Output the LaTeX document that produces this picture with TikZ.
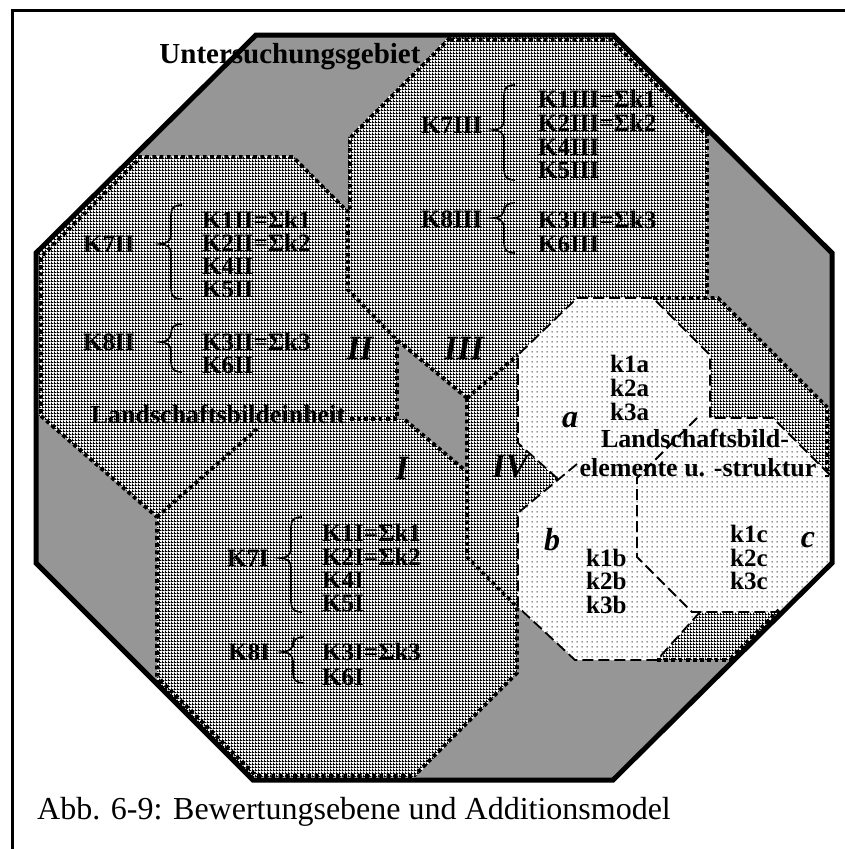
\documentclass[tikz,border=0pt]{standalone}
\usepackage{fontspec}
\setmainfont{Liberation Serif}
\usetikzlibrary{patterns}
\definecolor{grayfill}{RGB}{150,150,150}
\pgfdeclarepatternformonly{mesh}{\pgfqpoint{0pt}{0pt}}{\pgfqpoint{3pt}{3pt}}{\pgfqpoint{3pt}{3pt}}{%
  \pgfpathrectangle{\pgfqpoint{0pt}{0pt}}{\pgfqpoint{3pt}{1.2pt}}%
  \pgfpathrectangle{\pgfqpoint{0pt}{1.2pt}}{\pgfqpoint{1.2pt}{1.8pt}}%
  \pgfusepath{fill}}
\pgfdeclarepatternformonly{finedots}{\pgfqpoint{0pt}{0pt}}{\pgfqpoint{5pt}{5pt}}{\pgfqpoint{5pt}{5pt}}{%
  \pgfpathrectangle{\pgfqpoint{1.8pt}{1.8pt}}{\pgfqpoint{1.4pt}{1.4pt}}%
  \pgfusepath{fill}}
\newcommand\kbrace[4]{\draw[bracel] (#1+22,#2) .. controls (#1+14,#2) and (#1+11,#2+3) .. (#1+11,#2+10) -- (#1+11,#3-9) .. controls (#1+11,#3-3) and (#1+6,#3) .. (#1,#3) .. controls (#1+6,#3) and (#1+11,#3+3) .. (#1+11,#3+9) -- (#1+11,#4-10) .. controls (#1+11,#4-3) and (#1+14,#4) .. (#1+22,#4);}
\begin{document}
\begin{tikzpicture}[x=1pt,y=-1pt,
  dotl/.style={line width=3.8pt, dash pattern=on 3.8pt off 3.4pt},
  dashl/.style={line width=1.8pt, dash pattern=on 11pt off 5pt},
  bracel/.style={line width=1.6pt},
  checker/.style={pattern=mesh, preaction={fill=white}},
  dotted area/.style={pattern=finedots, preaction={fill=white}},
  lab/.style={font=\fontsize{25}{25}\selectfont\bfseries, inner sep=0pt, anchor=west},
  ctr/.style={font=\fontsize{26}{26}\selectfont\bfseries, inner sep=0pt},
  num/.style={font=\fontsize{34}{34}\selectfont\bfseries\itshape, inner sep=0pt},
  let/.style={font=\fontsize{32}{32}\selectfont\bfseries\itshape, inner sep=0pt}]
\useasboundingbox (0,0) rectangle (845,849);
% frame
\draw[line width=3pt] (12,849) -- (12,10) -- (845,10);
% octagon corners
\coordinate (o1) at (36,253);
\coordinate (o2) at (256,35);
\coordinate (o3) at (613,35);
\coordinate (o4) at (832,253);
\coordinate (o5) at (832,563);
\coordinate (o6) at (613,780);
\coordinate (o7) at (253,780);
\coordinate (o8) at (36,563);
% checkered base
\path[checker] (o1) -- (o2) -- (o3) -- (o4) -- (o5) -- (o6) -- (o7) -- (o8) -- cycle;
% gray uncovered areas
\fill[grayfill] (135,156) -- (256,35) -- (450,35) -- (348,137) -- (348,210) -- (293,156) -- cycle;
\fill[grayfill] (707,129) -- (832,253) -- (832,412) -- (718,298) -- (707,298) -- cycle;
\fill[grayfill] (397,342) -- (467,398) -- (467,472) -- (405,419) -- (397,419) -- cycle;
\fill[grayfill] (36,413) -- (157,517) -- (157,683) -- (36,563) -- cycle;
\fill[grayfill] (517,607) -- (575,660) -- (735,660) -- (613,780) -- (413,780) -- (517,673) -- cycle;
% white dotted area (a, b, c)
\path[dotted area] (577,298) -- (653,298) -- (710,355) -- (710,418) -- (773,418) -- (832,477) -- (832,563) -- (781,612) -- (700,612) -- (657,660) -- (575,660) -- (518,607) -- (518,513) -- (558,479) -- (518,443) -- (518,355) -- cycle;
% dotted region borders
\draw[dotl] (138,157) -- (293,157) -- (348,212) -- (348,290) -- (396,339) -- (467,398);
\draw[dotl] (450,38) -- (350,138) -- (350,212);
\draw[dotl] (397,340) -- (397,419) -- (350,419);
\draw[dotl] (41,416) -- (157,517) -- (157,683);
\draw[dotl] (157,517) -- (258,428);
\draw[dotl] (405,420) -- (467,472);
\draw[dotl] (467,398) -- (467,557) -- (517,607) -- (517,673) -- (415,775);
\draw[dotl] (467,398) -- (518,355);
\draw[dotl] (653,298) -- (718,298) -- (829,409);
\draw[dotl] (707,132) -- (707,298);
\draw[dotl] (657,660) -- (733,660);
\draw[dotl] (41,413) -- (41,257) -- (139,159);
\draw[dotl] (450,40) -- (611,40) -- (707,136);
\draw[dotl] (827,410) -- (827,477);
\draw[dotl] (779,610) -- (731,658);
\draw[dotl] (160,680) -- (256,776) -- (413,776);
% dashed element borders
\draw[dashl] (558,479) -- (518,443) -- (518,355) -- (577,298) -- (653,298) -- (710,355) -- (710,418) -- (773,418) -- (830,475);
\draw[dashl] (697,418) -- (637,478) -- (637,557) -- (692,612) -- (781,612);
\draw[dashl] (577,464) -- (518,513) -- (518,607) -- (575,660) -- (657,660) -- (700,612);
% outer octagon border
\draw[line width=5pt, line join=miter] (o1) -- (o2) -- (o3) -- (o4) -- (o5) -- (o6) -- (o7) -- (o8) -- cycle;
% braces
\kbrace{160}{205}{244}{299}
\kbrace{160}{324}{342}{372}
\kbrace{493}{85}{130}{180}
\kbrace{493}{203}{218}{253}
\kbrace{280}{517}{558}{612}
\kbrace{282}{637}{652}{683}
% texts
\node[font=\fontsize{29}{29}\selectfont\bfseries, inner sep=0pt, anchor=base] (title) at (290,63) {Untersuchungsgebiet};
% region II
\node[lab] (k7ii) at (83,244) {K7II};
\node[lab] (k1ii) at (202,220) {K1II=Σk1};
\node[lab] (k2ii) at (202,243) {K2II=Σk2};
\node[lab] (k4ii) at (202,266) {K4II};
\node[lab] (k5ii) at (202,289) {K5II};
\node[lab] (k8ii) at (83,342) {K8II};
\node[lab] (k3ii) at (202,342) {K3II=Σk3};
\node[lab] (k6ii) at (202,365) {K6II};
% region III
\node[lab] (k7iii) at (421,125) {K7III};
\node[lab] (k1iii) at (538,99) {K1III=Σk1};
\node[lab] (k2iii) at (538,123) {K2III=Σk2};
\node[lab] (k4iii) at (538,147) {K4III};
\node[lab] (k5iii) at (538,170) {K5III};
\node[lab] (k8iii) at (421,219) {K8III};
\node[lab] (k3iii) at (538,220) {K3III=Σk3};
\node[lab] (k6iii) at (538,244) {K6III};
% region I
\node[lab] (k7i) at (227,558) {K7I};
\node[lab] (k1i) at (322,533) {K1I=Σk1};
\node[lab] (k2i) at (322,557) {K2I=Σk2};
\node[lab] (k4i) at (322,580) {K4I};
\node[lab] (k5i) at (322,603) {K5I};
\node[lab] (k8i) at (228,652) {K8I};
\node[lab] (k3i) at (322,652) {K3I=Σk3};
\node[lab] (k6i) at (322,677) {K6I};
\node[ctr] (lbe) at (218,414) {Landschaftsbildeinheit};
% roman numerals
\node[num] (rII) at (360,348) {II};
\node[num] (rIII) at (464,348) {III};
\node[num] (rI) at (402,468) {I};
\node[num] (rIV) at (510,467) {IV};
% elements
\node[let] (la) at (570,420) {a};
\node[let] (lb) at (552,540) {b};
\node[let] (lc) at (808,540) {c};
\node[lab] (k1a) at (610,364) {k1a};
\node[lab] (k2a) at (610,388) {k2a};
\node[lab] (k3a) at (610,412) {k3a};
\node[lab] (k1b) at (586,558) {k1b};
\node[lab] (k2b) at (586,581) {k2b};
\node[lab] (k3b) at (586,605) {k3b};
\node[lab] (k1c) at (730,534) {k1c};
\node[lab] (k2c) at (730,558) {k2c};
\node[lab] (k3c) at (730,581) {k3c};
\node[ctr] (lbild) at (695,438) {Landschaftsbild-};
\node[ctr] (lelem) at (698,468) {elemente u. -struktur};
% caption
\node[font=\fontsize{32}{36}\selectfont, inner sep=0pt, anchor=base west] (cap) at (37,819) {Abb. 6-9: Bewertungsebene und Additionsmodel};
\end{tikzpicture}
\end{document}
